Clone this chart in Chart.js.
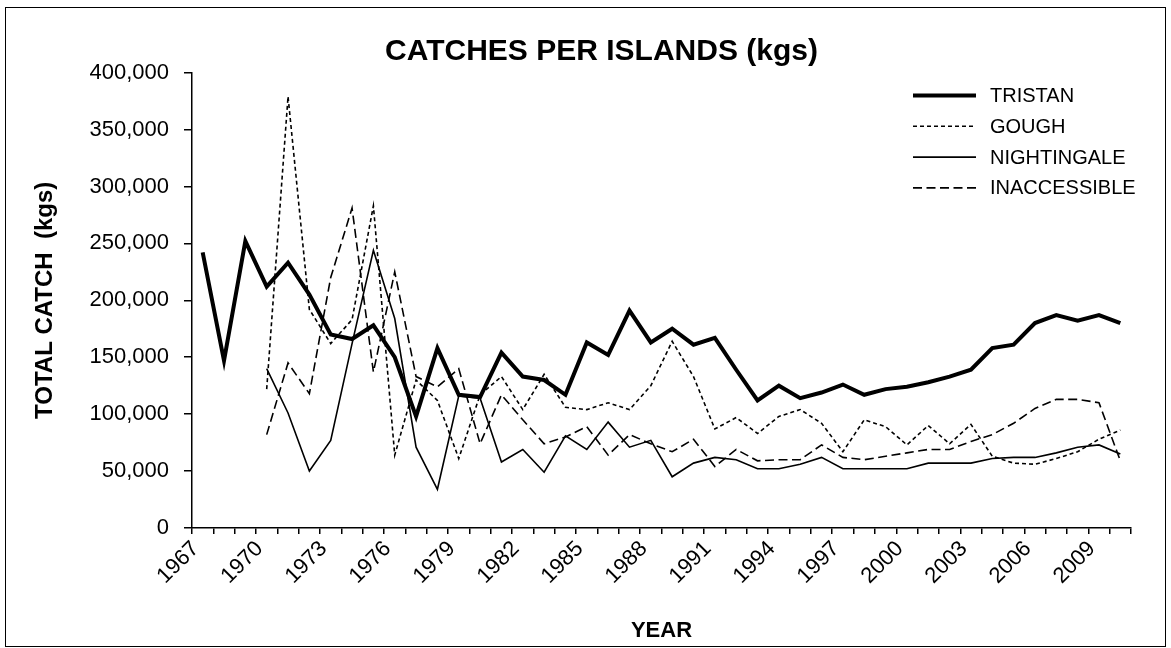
<!DOCTYPE html>
<html>
<head>
<meta charset="utf-8">
<title>Catches per islands</title>
<script src="https://cdn.jsdelivr.net/npm/chart.js@4.4.1/dist/chart.umd.min.js"></script>
<style>
  html, body { margin: 0; padding: 0; background: #fff; }
  #wrap { position: relative; width: 1171px; height: 648px; }
  #frame { position: absolute; left: 5px; top: 7px; width: 1159px; height: 638px;
           border: 1.5px solid #000; pointer-events: none; }
</style>
</head>
<body>
<div id="wrap">
  <canvas id="catchChart" width="1171" height="648"></canvas>
  <div id="frame"></div>
</div>
<script>
// yearly catches in kg
const years = ['1967','1968','1969','1970','1971','1972','1973','1974','1975','1976',
  '1977','1978','1979','1980','1981','1982','1983','1984','1985','1986','1987','1988',
  '1989','1990','1991','1992','1993','1994','1995','1996','1997','1998','1999','2000',
  '2001','2002','2003','2004','2005','2006','2007','2008','2009','2010'];

const tristan = [242000, 147000, 252000, 212000, 233000, 205000, 170000, 166000, 178000, 150000,
  98000, 158000, 117000, 115000, 154000, 133000, 130000, 117000, 163000, 152000, 191000, 163000,
  175000, 161000, 167000, 139000, 112000, 125000, 114000, 119000, 126000, 117000, 122000, 124000,
  128000, 133000, 139000, 158000, 161000, 180000, 187000, 182000, 187000, 180000];

const gough = [null, null, null, 122000, 379000, 192000, 162000, 183000, 283000, 64000,
  130000, 112000, 61000, 117000, 133000, 104000, 135000, 106000, 104000, 110000, 104000, 125000,
  164000, 133000, 87000, 97000, 83000, 98000, 104000, 92000, 67000, 95000, 89000, 73000,
  90000, 74000, 91000, 63000, 57000, 56000, 61000, 67000, 78000, 86000];

const nightingale = [null, null, null, 140000, 101000, 50000, 77000, 162000, 244000, 184000,
  71000, 34000, 116000, 114000, 58000, 69000, 49000, 81000, 69000, 93000, 71000, 77000,
  45000, 57000, 62000, 60000, 52000, 52000, 56000, 62000, 52000, 52000, 52000, 52000,
  57000, 57000, 57000, 61000, 62000, 62000, 66000, 71000, 73000, 65000];

const inaccessible = [null, null, null, 82000, 145000, 118000, 220000, 281000, 137000, 225000,
  133000, 124000, 140000, 74000, 117000, 95000, 74000, 80000, 89000, 64000, 82000, 74000,
  67000, 78000, 54000, 69000, 59000, 60000, 60000, 73000, 62000, 60000, 63000, 66000,
  69000, 69000, 76000, 82000, 92000, 105000, 113000, 113000, 110000, 59000];

const FONT = '"Liberation Sans", Arial, Helvetica, sans-serif';

// legend drawn inside the plot, top right, with line samples
const lineLegend = {
  id: 'lineLegend',
  afterDraw(chart) {
    const ctx = chart.ctx;
    ctx.save();
    ctx.font = '20px ' + FONT;
    ctx.textBaseline = 'middle';
    ctx.fillStyle = '#000';
    chart.data.datasets.forEach((ds, i) => {
      const y = 95.5 + i * 30.8;
      ctx.beginPath();
      ctx.setLineDash(ds.borderDash || []);
      ctx.lineWidth = ds.borderWidth;
      ctx.strokeStyle = ds.borderColor;
      ctx.moveTo(913, y);
      ctx.lineTo(976, y);
      ctx.stroke();
      ctx.setLineDash([]);
      ctx.fillText(ds.label, 990, y + 1);
    });
    ctx.restore();
  }
};

const series = (label, data, width, dash) => ({
  label: label,
  data: data,
  borderColor: '#000',
  backgroundColor: '#000',
  borderWidth: width,
  borderDash: dash,
  pointRadius: 0,
  tension: 0,
  fill: false,
  spanGaps: false
});

new Chart(document.getElementById('catchChart'), {
  type: 'line',
  data: {
    labels: years,
    datasets: [
      series('TRISTAN', tristan, 4, []),
      series('GOUGH', gough, 1.6, [4, 3]),
      series('NIGHTINGALE', nightingale, 1.6, []),
      series('INACCESSIBLE', inaccessible, 1.6, [9, 4.5])
    ]
  },
  options: {
    responsive: false,
    animation: false,
    devicePixelRatio: 1,
    layout: { padding: { left: 72, right: 40, top: 0, bottom: 0 } },
    plugins: {
      legend: { display: false },
      tooltip: { enabled: false },
      title: {
        display: true,
        text: 'CATCHES PER ISLANDS (kgs)',
        color: '#000',
        font: { family: FONT, size: 30, weight: 'bold' },
        padding: { top: 34, bottom: 2.6 }
      }
    },
    scales: {
      x: {
        type: 'category',
        offset: true,
        afterFit(scale) { scale.height = 120; },
        grid: { display: true, drawOnChartArea: false, offset: true, color: '#000',
                lineWidth: 1.5, tickLength: 6 },
        border: { display: true, color: '#000', width: 1.5 },
        ticks: {
          autoSkip: false,
          minRotation: 45,
          maxRotation: 45,
          padding: 2,
          labelOffset: -7,
          color: '#000',
          font: { family: FONT, size: 22 },
          callback: function (value, index) {
            return index % 3 === 0 ? this.getLabelForValue(value) : '';
          }
        },
        title: {
          display: true,
          text: 'YEAR',
          color: '#000',
          font: { family: FONT, size: 22, weight: 'bold' },
          padding: { top: 0, bottom: 4 }
        }
      },
      y: {
        min: 0,
        max: 400000,
        afterFit(scale) { scale.width = 120; },
        grid: { display: true, drawOnChartArea: false, color: '#000', lineWidth: 1.5, tickLength: 8 },
        border: { display: true, color: '#000', width: 1.5 },
        ticks: {
          stepSize: 50000,
          padding: 15,
          color: '#000',
          font: { family: FONT, size: 22 },
          callback: (v) => v.toLocaleString('en-US')
        },
        title: {
          display: true,
          text: 'TOTAL CATCH  (kgs)',
          color: '#000',
          font: { family: FONT, size: 24, weight: 'bold' },
          padding: { top: -41, bottom: 0 }
        }
      }
    }
  },
  plugins: [lineLegend]
});
</script>
</body>
</html>
